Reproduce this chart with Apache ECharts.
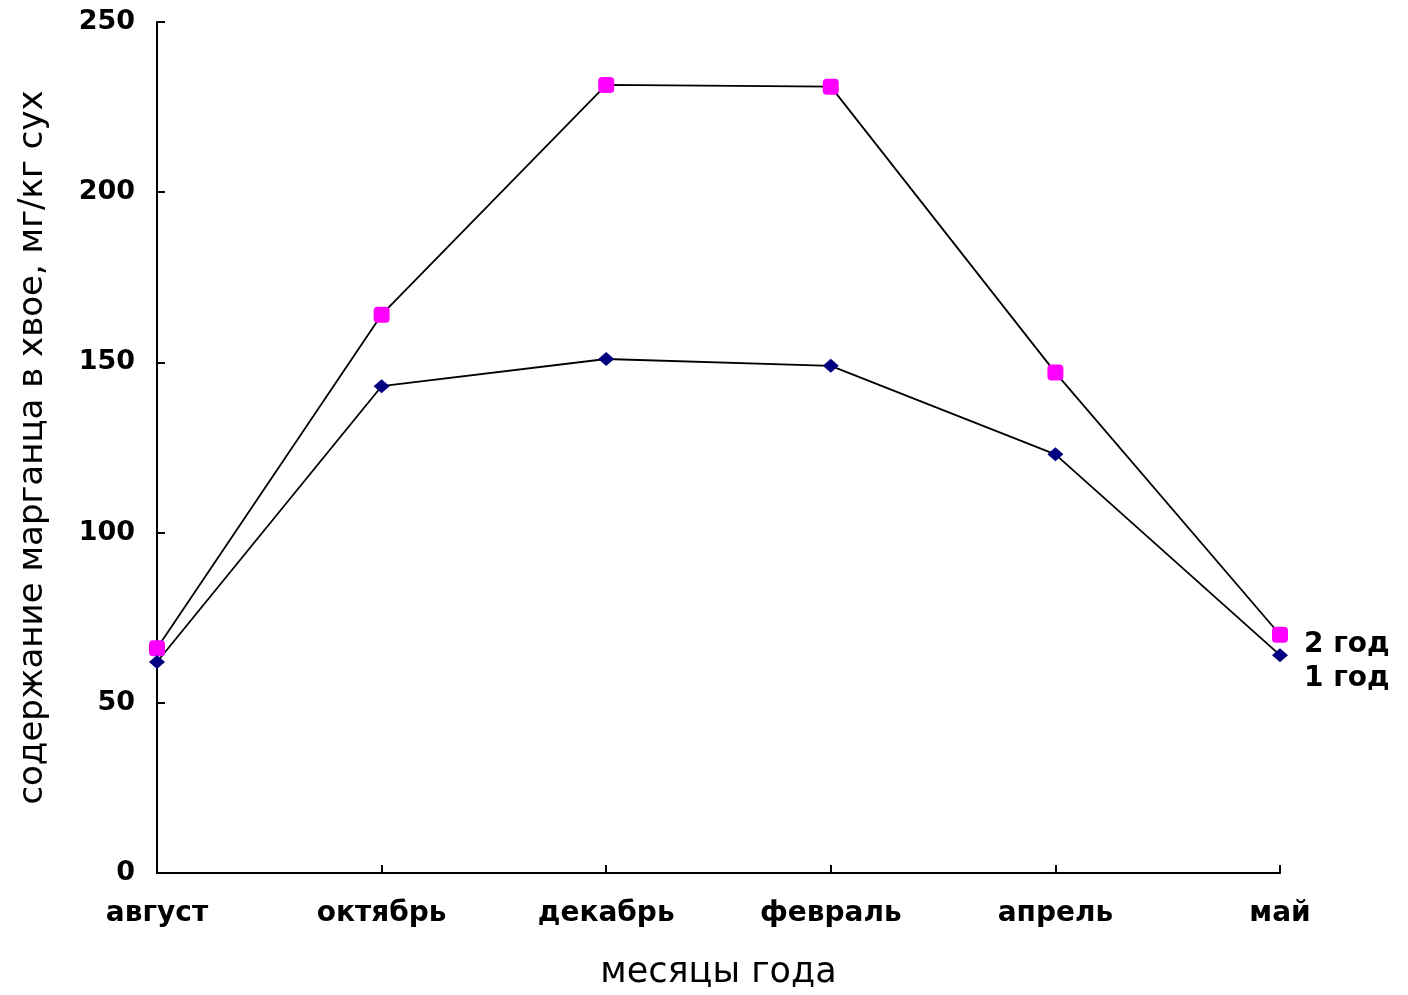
<!DOCTYPE html>
<html><head><meta charset="utf-8">
<script src="https://cdn.jsdelivr.net/npm/echarts@6/dist/echarts.min.js"></script>
<style>html,body{margin:0;padding:0;background:#fff;overflow:hidden}#c{width:1408px;height:995px}</style>
</head><body><div id="c"></div>
<script>
const categories = ['август','октябрь','декабрь','февраль','апрель','май'];
const year2 = [66, 164, 231.5, 231, 147, 70];
const year1 = [62, 143, 151, 149, 123, 64];
const yTicks = {min: 0, max: 250, interval: 50};
const chart = echarts.init(document.getElementById('c'));
const lbl = {fontFamily:'DejaVu Sans', fontWeight:'bold', color:'#000'};
chart.setOption({
  animation:false,
  grid:{left:157,width:1123,top:22,height:857},
  xAxis:{type:'category',data:categories,boundaryGap:false,
    name:'месяцы года',nameLocation:'middle',nameGap:82,
    nameTextStyle:{fontFamily:'DejaVu Sans',fontSize:35,color:'#000'},
    axisLine:{lineStyle:{color:'#000',width:2}},
    axisTick:{inside:true,length:8,lineStyle:{color:'#000',width:2}},
    axisLabel:Object.assign({margin:27,fontSize:28},lbl),
    splitLine:{show:false}},
  yAxis:{type:'value',min:yTicks.min,max:yTicks.max,interval:yTicks.interval,
    name:'содержание марганца в хвое, мг/кг сух',nameLocation:'middle',nameGap:107,
    nameTextStyle:{fontFamily:'DejaVu Sans',fontSize:34,color:'#000'},
    axisLine:{show:true,lineStyle:{color:'#000',width:2}},
    axisTick:{show:true,inside:true,length:8,lineStyle:{color:'#000',width:2}},
    axisLabel:Object.assign({margin:22,fontSize:27},lbl),
    splitLine:{show:false}},
  series:[
    {name:'2 год',type:'line',data:year2,symbol:'roundRect',symbolSize:16,
     lineStyle:{color:'#000',width:1.8},itemStyle:{color:'#ff00ff'},
     endLabel:{show:true,formatter:'2 год',offset:[16,10],fontSize:28,...lbl}},
    {name:'1 год',type:'line',data:year1,symbol:'diamond',symbolSize:[16,14],
     lineStyle:{color:'#000',width:1.8},itemStyle:{color:'#000080'},
     endLabel:{show:true,formatter:'1 год',offset:[16,24],fontSize:28,...lbl}}
  ]
});
</script></body></html>
